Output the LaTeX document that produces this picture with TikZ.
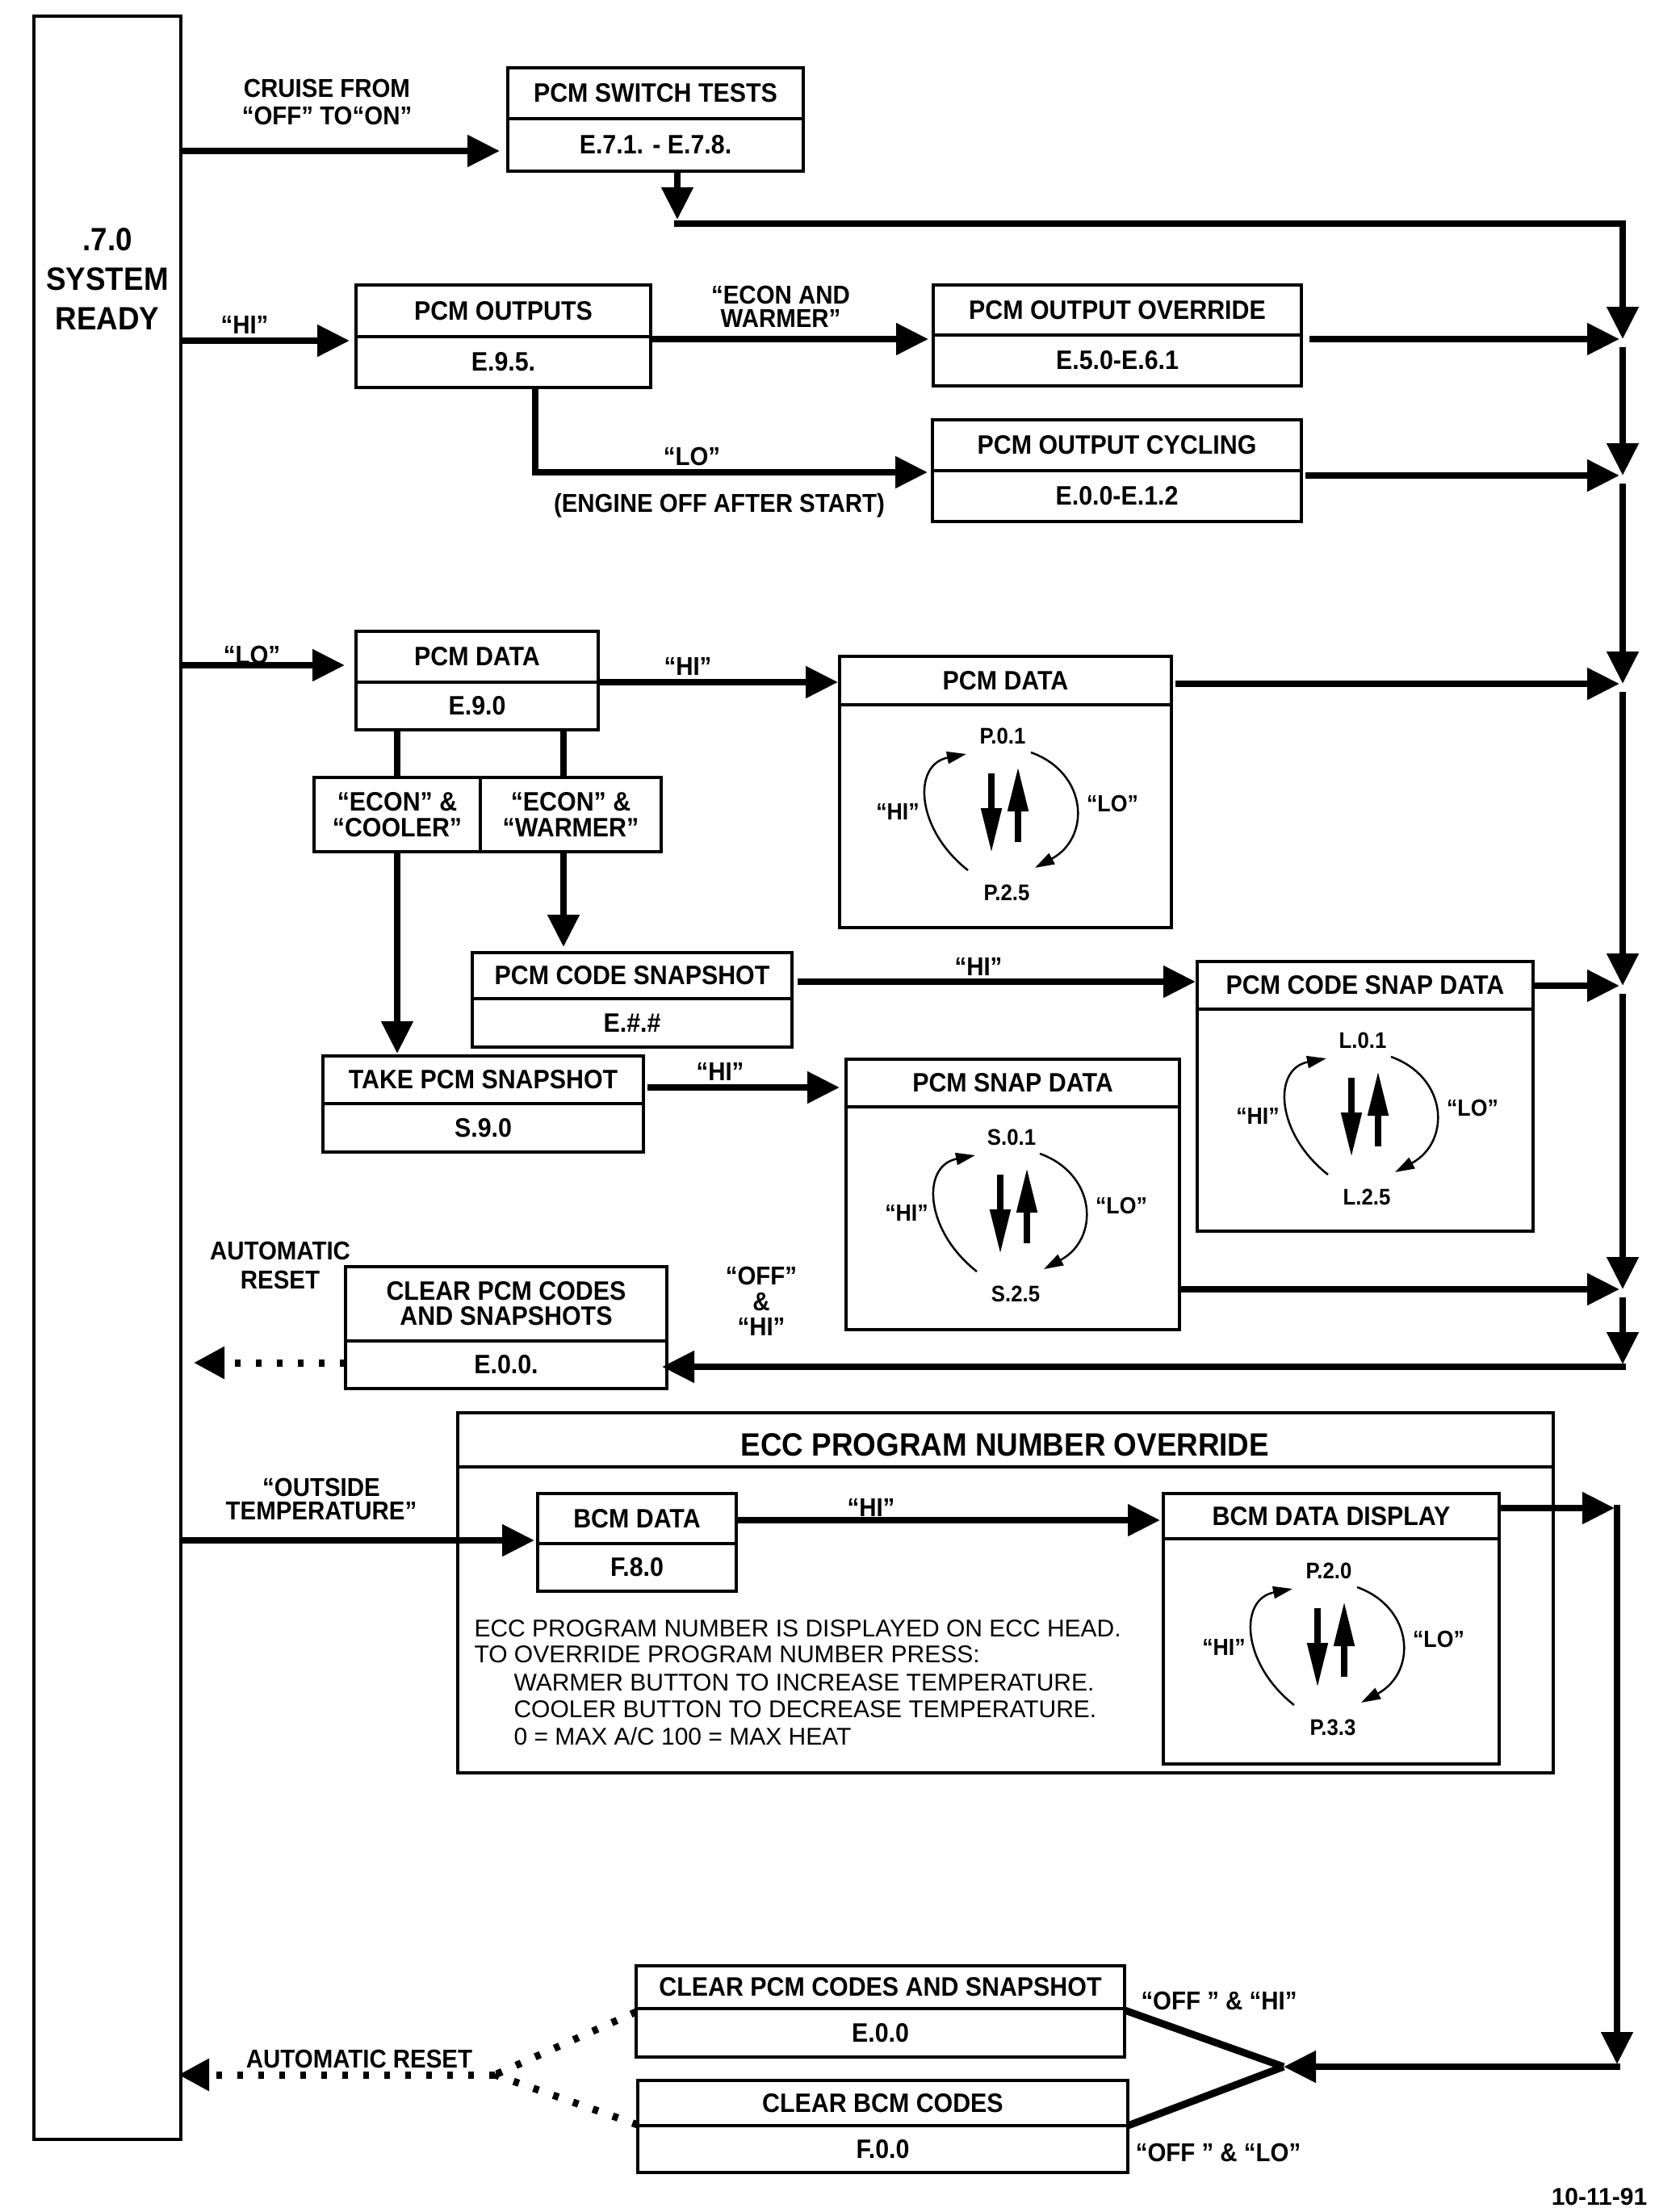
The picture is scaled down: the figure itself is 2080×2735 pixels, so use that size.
\documentclass[tikz,border=0pt]{standalone}
\usepackage{fontspec}
\setmainfont{Liberation Sans}
\newfontfamily\bfc{Liberation Sans}[FakeStretch=0.92]
\usetikzlibrary{arrows.meta}
\tikzset{
 every node/.style={inner sep=0pt, outer sep=0pt},
 boxr/.style={draw, line width=4pt, rectangle},
 divl/.style={line width=4pt},
 ttl/.style={font=\bfc\bfseries\fontsize{33}{31}\selectfont, align=center},
 lab/.style={font=\bfc\bfseries\fontsize{32}{34}\selectfont, align=center},
 cyl/.style={font=\bfc\bfseries\fontsize{28}{30}\selectfont},
 cyq/.style={font=\bfc\bfseries\fontsize{29}{30}\selectfont},
 conn/.style={line width=8pt},
 arr/.style={line width=8pt, -{Triangle[length=40pt,width=38pt]}},
 dotline/.style={line width=9pt, dash pattern=on 7pt off 19pt},
 dotarr/.style={dotline, -{Triangle[length=38pt,width=38pt]}},
 bigar/.style={line width=8pt, -{Triangle[length=56pt,width=24pt]}},
 curar/.style={line width=2.5pt, -{Triangle[length=24pt,width=15pt]}},
 vline/.style={line width=9pt}
}
\newcommand{\tbox}[8]{%
 \node[boxr, minimum width={(#4-#2)*1pt}, minimum height={(#6-#3)*1pt}] (#1) at ({(#2+#4)/2},{(#3+#6)/2}) {};
 \draw[divl] (#2,#5) -- (#4,#5);
 \node[ttl] (#1t) at ({(#2+#4)/2},{(#3+#5)/2}) {#7};
 \node[ttl] (#1b) at ({(#2+#4)/2},{(#5+#6)/2}) {#8};}
\newcommand{\databox}[7]{%
 \node[boxr, minimum width={(#4-#2)*1pt}, minimum height={(#6-#3)*1pt}] (#1) at ({(#2+#4)/2},{(#3+#6)/2}) {};
 \draw[divl] (#2,#5) -- (#4,#5);
 \node[ttl] (#1t) at ({(#2+#4)/2},{(#3+#5)/2}) {#7};}
\newcommand{\cycl}[5]{%
 \begin{scope}[shift={(#2,#3)}]
  \node[cyl] (#1t) at (0,0) {#4};
  \node[cyl] (#1b) at (5,194) {#5};
  \node[cyq] (#1h) at (-130,94) {“HI”};
  \node[cyq] (#1l) at (136,84) {“LO”};
  \draw[bigar] (-14,46) -- (-14,145);
  \draw[bigar] (19,131) -- (19,37);
  \draw[curar] (-43,166) .. controls (-108,115) and (-112,35) .. (-45,22);
  \draw[curar] (35,20) .. controls (105,45) and (110,125) .. (40,163);
 \end{scope}}
\begin{document}
\begin{tikzpicture}[x=1pt,y=-1pt]
\fill[white] (0,0) rectangle (2080,2735);
\useasboundingbox (0,0) rectangle (2080,2735);

% left box
\node[boxr, line width=3.5pt, minimum width=182pt, minimum height=2630pt] (sys) at (133,1335) {};
\node[font=\bfc\bfseries\fontsize{40}{49}\selectfont, align=center] (syst) at (133,346) {.7.0\\SYSTEM\\READY};

% boxes
\tbox{sw}{629}{84}{995}{147}{212}{PCM SWITCH TESTS}{E.7.1. - E.7.8.}
\tbox{outs}{441}{353}{806}{417}{480}{PCM OUTPUTS}{E.9.5.}
\tbox{ovr}{1156}{353}{1612}{415}{478}{PCM OUTPUT OVERRIDE}{E.5.0-E.6.1}
\tbox{cyc}{1155}{520}{1612}{583}{646}{PCM OUTPUT CYCLING}{E.0.0-E.1.2}
\tbox{pdat}{441}{782}{741}{845}{904}{PCM DATA}{E.9.0}
\tbox{pcs}{585}{1180}{981}{1237}{1297}{PCM CODE SNAPSHOT}{E.\#.\#}
\tbox{tps}{400}{1308}{797}{1367}{1427}{TAKE PCM SNAPSHOT}{S.9.0}
\tbox{clr}{428}{1569}{826}{1661}{1720}{CLEAR PCM CODES\\AND SNAPSHOTS}{E.0.0.}
\tbox{cpc}{788}{2435}{1393}{2488}{2548}{CLEAR PCM CODES AND SNAPSHOT}{E.0.0}
\tbox{cbc}{790}{2577}{1397}{2633}{2691}{CLEAR BCM CODES}{F.0.0}

\node[boxr, ttl, font=\bfc\bfseries\fontsize{33}{32}\selectfont, minimum width=206pt, minimum height=92pt] (cool) at (492,1009) {“ECON” \&\\“COOLER”};
\node[boxr, ttl, font=\bfc\bfseries\fontsize{33}{32}\selectfont, minimum width=224pt, minimum height=92pt] (warm) at (707,1009) {“ECON” \&\\“WARMER”};

\databox{pdb}{1040}{813}{1451}{873}{1149}{PCM DATA}
\cycl{pc}{1242}{912}{P.0.1}{P.2.5}
\databox{pcsd}{1483}{1191}{1899}{1250}{1525}{PCM CODE SNAP DATA}
\cycl{lc}{1688}{1289}{L.0.1}{L.2.5}
\databox{psd}{1048}{1312}{1461}{1371}{1647}{PCM SNAP DATA}
\cycl{sc}{1253}{1409}{S.0.1}{S.2.5}

% ECC box
\node[boxr, minimum width=1357pt, minimum height=446pt] (ecc) at (1245.5,1973) {};
\draw[divl] (567,1817) -- (1924,1817);
\node[font=\bfc\bfseries\fontsize{40}{40}\selectfont] (ecct) at (1245,1790) {ECC PROGRAM NUMBER OVERRIDE};
\tbox{bcm}{666}{1850}{912}{1912}{1971}{BCM DATA}{F.8.0}
\databox{bdd}{1441}{1850}{1857}{1906}{2185}{BCM DATA DISPLAY}
\cycl{bc}{1646}{1946}{P.2.0}{P.3.3}
\begin{scope}[every node/.style={anchor=base west, font=\fontsize{30}{30}\selectfont}]
\node (e1) at (584,2027) {ECC PROGRAM NUMBER IS DISPLAYED ON ECC HEAD.};
\node (e2) at (584,2059) {TO OVERRIDE PROGRAM NUMBER PRESS:};
\node (e3) at (633,2094) {WARMER BUTTON TO INCREASE TEMPERATURE.};
\node (e4) at (633,2127) {COOLER BUTTON TO DECREASE TEMPERATURE.};
\node (e5) at (633,2161) {0 = MAX A/C 100 = MAX HEAT};
\end{scope}

% rail coordinates
\coordinate (t0) at (839,272);
\coordinate (t0b) at (835,277);
\coordinate (j1) at (2010,420);
\coordinate (j2) at (2010,589);
\coordinate (j3) at (2010,847);
\coordinate (j4) at (2010,1221);
\coordinate (j5) at (2010,1597);
\coordinate (j6) at (2010,1690);
\coordinate (j6b) at (2014,1693);
\coordinate (k1) at (2003,1868);
\coordinate (k2) at (2003,2557);
\coordinate (k3) at (2007,2560);
\coordinate (v) at (1590,2560);
\coordinate (dj) at (613,2570);
\coordinate (ar1) at (240,1688);

% labels
\node[lab] (l1) at (405,126) {CRUISE FROM\\“OFF” TO“ON”};
\node[lab] (l2) at (303,402) {“HI”};
\node[lab, font=\bfc\bfseries\fontsize{32}{29}\selectfont] (l3) at (967,380) {“ECON AND\\WARMER”};
\node[lab] (l4) at (857,565) {“LO”};
\node[lab] (l5) at (891,626) {(ENGINE OFF AFTER START)};
\node[lab] (l6) at (312,811) {“LO”};
\node[lab] (l7) at (852,825) {“HI”};
\node[lab] (l8) at (1212,1197) {“HI”};
\node[lab] (l9) at (892,1327) {“HI”};
\node[lab, font=\bfc\bfseries\fontsize{32}{36}\selectfont] (l10) at (347,1567) {AUTOMATIC\\RESET};
\node[lab, font=\bfc\bfseries\fontsize{32}{31.5}\selectfont] (l11) at (943,1612) {“OFF”\\\&\\“HI”};
\node[lab, font=\bfc\bfseries\fontsize{32}{29}\selectfont] (l12) at (398,1857) {“OUTSIDE\\TEMPERATURE”};
\node[lab] (l13) at (1079,1867) {“HI”};
\node[lab] (l14) at (445,2550) {AUTOMATIC RESET};
\node[lab] (l15) at (1510,2478) {“OFF ” \& “HI”};
\node[lab] (l16) at (1509,2666) {“OFF ” \& “LO”};
\node[anchor=base, font=\bfseries\fontsize{30}{30}\selectfont] (date) at (1981,2731) {10-11-91};

% connectors
\draw[arr, shorten >=10pt] (sys.east |- 0,187) -- (sw.west |- 0,187);
\draw[arr] (sw.south -| t0) -- (t0);
\draw[arr] (t0b) -| (j1);
\draw[arr, shorten >=8pt] (sys.east |- 0,422) -- (outs.west |- 0,422);
\draw[arr, shorten >=6pt] (outs.east |- 0,420) -- (ovr.west |- 0,420);
\draw[arr, shorten >=6pt] (outs.south -| 663,0) |- (cyc.west |- 0,585);
\draw[arr, shorten <=10pt] (ovr.east |- j1) -- ([xshift=-4pt]j1);
\draw[arr, shorten <=10pt] (j1) -- (j2);
\draw[arr, shorten <=5pt] (cyc.east |- j2) -- ([xshift=-4pt]j2);
\draw[arr, shorten >=14pt] (sys.east |- 0,824) -- (pdat.west |- 0,824);
\draw[arr, shorten >=2pt] (pdat.east |- 0,845) -- (pdb.west |- 0,845);
\draw[conn] (pdat.south -| cool) -- (cool.north);
\draw[conn] (pdat.south -| 698,0) -- (warm.north -| 698,0);
\draw[arr, shorten >=3pt] (cool.south) -- (cool.south |- tps.north);
\draw[arr, shorten >=7pt] (warm.south -| 698,0) -- (pcs.north -| 698,0);
\draw[arr, shorten <=10pt] (j2) -- (j3);
\draw[arr, shorten <=5pt] (pdb.east |- j3) -- ([xshift=-4pt]j3);
\draw[arr, shorten <=7pt, shorten >=2pt] (pcs.east |- 0,1216) -- (pcsd.west |- 0,1216);
\draw[arr, shorten <=10pt] (j3) -- (j4);
\draw[arr] (pcsd.east |- j4) -- ([xshift=-4pt]j4);
\draw[arr, shorten <=5pt, shorten >=8pt] (tps.east |- 0,1347) -- (psd.west |- 0,1347);
\draw[arr, shorten <=10pt] (j4) -- (j5);
\draw[arr] (psd.east |- j5) -- ([xshift=-4pt]j5);
\draw[arr, shorten <=10pt] (j5) -- (j6);
\draw[arr, shorten >=-6pt] (j6b) -- (clr.east |- j6b);
\draw[dotarr] (clr.west |- ar1) -- (ar1);
\draw[arr, shorten >=4pt] (sys.east |- 0,1908) -- (bcm.west |- 0,1908);
\draw[arr, shorten >=4pt] (bcm.east |- 0,1883) -- (bdd.west |- 0,1883);
\draw[arr] (bdd.east |- k1) -- ([xshift=-3pt]k1);
\draw[arr] ([yshift=4pt]k1) -- (k2);
\draw[arr] (k3) -- (v);
\draw[vline] (v) -- (cpc.east |- 0,2490);
\draw[vline] (v) -- (cbc.east |- 0,2633);
\draw[dotline] (cpc.west |- 0,2492) -- (dj);
\draw[dotline] (cbc.west |- 0,2632) -- (dj);
\draw[dotarr, shorten >=-3pt] (dj) -- (sys.east |- dj);
\end{tikzpicture}
\end{document}
